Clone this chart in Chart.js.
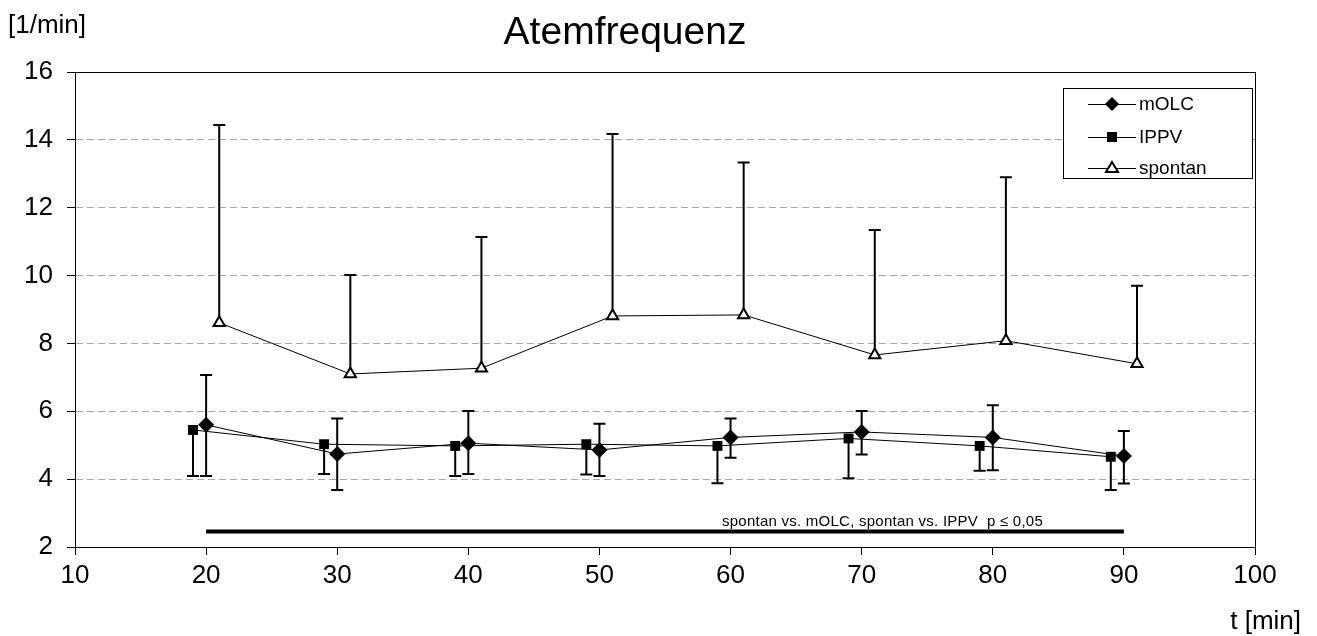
<!DOCTYPE html>
<html>
<head>
<meta charset="utf-8">
<script src="https://cdn.jsdelivr.net/npm/chart.js@4.4.1/dist/chart.umd.min.js"></script>
<style>
  body { margin: 0; background: #fff; }
  canvas { display: block; }
</style>
</head>
<body>
<canvas id="atemChart" width="1317" height="636"></canvas>
<script>
// values
const ippvX = [19, 29, 39, 49, 59, 69, 79, 89];
const ippvMean = [5.45, 5.03, 4.98, 5.03, 4.98, 5.20, 4.98, 4.66];
const ippvLow = [4.09, 4.15, 4.09, 4.14, 3.88, 4.03, 4.25, 3.68];

const molcX = [20, 30, 40, 50, 60, 70, 80, 90];
const molcMean = [5.60, 4.74, 5.06, 4.86, 5.23, 5.39, 5.23, 4.68];
const molcLow = [4.09, 3.68, 4.15, 4.09, 4.63, 4.73, 4.26, 3.87];
const molcHigh = [7.07, 5.79, 6.01, 5.63, 5.79, 6.01, 6.18, 5.42];

const spontanX = [21, 31, 41, 51, 61, 71, 81, 91];
const spontanMean = [8.61, 7.10, 7.27, 8.81, 8.84, 7.66, 8.08, 7.40];
const spontanHigh = [14.44, 10.02, 11.14, 14.17, 13.33, 11.34, 12.90, 9.70];

const sigX = [20, 90];
const sigY = [2.46, 2.46];
const sigText = 'spontan vs. mOLC, spontan vs. IPPV  p \u2264 0,05';

const toPoints = (xs, ys) => xs.map((x, i) => ({ x: x, y: ys[i] }));

const FONT = "'Liberation Sans', Arial, sans-serif";

// error bars drawn under the markers
const errorBars = {
  id: 'errorBars',
  beforeDatasetsDraw(chart) {
    const { ctx, scales: { x, y } } = chart;
    ctx.save();
    ctx.strokeStyle = '#000';
    ctx.lineWidth = 2;
    chart.data.datasets.forEach((ds) => {
      if (!ds.errLow && !ds.errHigh) return;
      ds.data.forEach((p, i) => {
        const px = x.getPixelForValue(p.x);
        const py = y.getPixelForValue(p.y);
        [ds.errLow, ds.errHigh].forEach((arr) => {
          if (!arr) return;
          const ey = y.getPixelForValue(arr[i]);
          ctx.beginPath();
          ctx.moveTo(px, py);
          ctx.lineTo(px, ey);
          ctx.moveTo(px - 6, ey);
          ctx.lineTo(px + 6, ey);
          ctx.stroke();
        });
      });
    });
    ctx.restore();
  }
};

// frame, titles, significance note and legend
const decorations = {
  id: 'decorations',
  afterDraw(chart) {
    const { ctx, chartArea: a, scales: { y } } = chart;
    ctx.save();
    ctx.strokeStyle = '#000';
    ctx.lineWidth = 1;
    ctx.strokeRect(a.left + 0.5, a.top + 0.5, a.right - a.left, a.bottom - a.top);

    ctx.fillStyle = '#000';
    ctx.textBaseline = 'middle';
    ctx.textAlign = 'center';
    ctx.font = '39px ' + FONT;
    ctx.fillText('Atemfrequenz', 625, 33);

    ctx.font = '26px ' + FONT;
    ctx.textAlign = 'left';
    ctx.fillText('[1/min]', 8, 26);
    ctx.textAlign = 'right';
    ctx.fillText('t [min]', 1301, 622);

    ctx.font = '15px ' + FONT;
    ctx.letterSpacing = '0.25px';
    ctx.fillText(sigText, 1043, y.getPixelForValue(sigY[0]) - 10);
    ctx.letterSpacing = '0px';

    // legend box
    const lx = 1063, ly = 88, lw = 189, lh = 90;
    ctx.fillStyle = '#fff';
    ctx.fillRect(lx, ly, lw, lh);
    ctx.strokeRect(lx + 0.5, ly + 0.5, lw, lh);
    const rows = [
      { label: 'mOLC', style: 'diamond', y: 104 },
      { label: 'IPPV', style: 'square', y: 137 },
      { label: 'spontan', style: 'triangle', y: 168 }
    ];
    rows.forEach((r) => {
      ctx.strokeStyle = '#000';
      ctx.lineWidth = 1;
      ctx.beginPath();
      ctx.moveTo(1088, r.y + 0.5);
      ctx.lineTo(1136, r.y + 0.5);
      ctx.stroke();
      const cx = 1112;
      ctx.beginPath();
      if (r.style === 'diamond') {
        ctx.moveTo(cx, r.y - 7); ctx.lineTo(cx + 7, r.y); ctx.lineTo(cx, r.y + 7); ctx.lineTo(cx - 7, r.y);
        ctx.closePath(); ctx.fillStyle = '#000'; ctx.fill();
      } else if (r.style === 'square') {
        ctx.rect(cx - 5, r.y - 5, 10, 10); ctx.fillStyle = '#000'; ctx.fill();
      } else {
        ctx.moveTo(cx, r.y - 6); ctx.lineTo(cx + 6, r.y + 4); ctx.lineTo(cx - 6, r.y + 4);
        ctx.closePath(); ctx.fillStyle = '#fff'; ctx.fill();
        ctx.lineWidth = 2; ctx.stroke();
      }
      ctx.fillStyle = '#000';
      ctx.textAlign = 'left';
      ctx.font = '19px ' + FONT;
      ctx.fillText(r.label, 1139, r.y + 1);
    });
    ctx.restore();
  }
};

new Chart(document.getElementById('atemChart'), {
  type: 'line',
  data: {
    datasets: [
      {
        label: 'mOLC',
        data: toPoints(molcX, molcMean),
        errLow: molcLow,
        errHigh: molcHigh,
        borderColor: '#000',
        borderWidth: 1,
        pointStyle: 'rectRot',
        pointRadius: 8,
        pointBackgroundColor: '#000',
        pointBorderColor: '#000',
        pointBorderWidth: 0
      },
      {
        label: 'IPPV',
        data: toPoints(ippvX, ippvMean),
        errLow: ippvLow,
        borderColor: '#000',
        borderWidth: 1,
        pointStyle: 'rect',
        pointRadius: 7,
        pointBackgroundColor: '#000',
        pointBorderColor: '#000',
        pointBorderWidth: 0
      },
      {
        label: 'spontan',
        data: toPoints(spontanX, spontanMean),
        errHigh: spontanHigh,
        borderColor: '#000',
        borderWidth: 1,
        pointStyle: 'triangle',
        pointRadius: 6.5,
        pointBackgroundColor: '#fff',
        pointBorderColor: '#000',
        pointBorderWidth: 2
      },
      {
        label: 'sig',
        data: toPoints(sigX, sigY),
        borderColor: '#000',
        borderWidth: 4,
        pointRadius: 0
      }
    ]
  },
  options: {
    responsive: false,
    animation: false,
    events: [],
    layout: { padding: { top: 72, right: 62, left: 0, bottom: 0 } },
    plugins: {
      legend: { display: false },
      title: { display: false },
      tooltip: { enabled: false }
    },
    scales: {
      x: {
        type: 'linear',
        min: 10,
        max: 100,
        afterFit: (s) => { s.height = 89; },
        ticks: { stepSize: 10, color: '#000', padding: 5, font: { family: FONT, size: 26 } },
        grid: { drawOnChartArea: false, tickLength: 8, tickColor: '#000' },
        border: { color: '#000', width: 1 }
      },
      y: {
        min: 2,
        max: 16,
        afterFit: (s) => { s.width = 75; },
        ticks: { stepSize: 2, color: '#000', padding: 14, font: { family: FONT, size: 26 } },
        grid: {
          color: (c) => (c.tick && (c.tick.value === 2 || c.tick.value === 16)) ? 'rgba(0,0,0,0)' : '#a6a6a6',
          tickColor: '#000',
          tickLength: 8,
          tickBorderDash: []
        },
        border: { color: '#000', width: 1, dash: [7, 4] }
      }
    }
  },
  plugins: [errorBars, decorations]
});
</script>
</body>
</html>
